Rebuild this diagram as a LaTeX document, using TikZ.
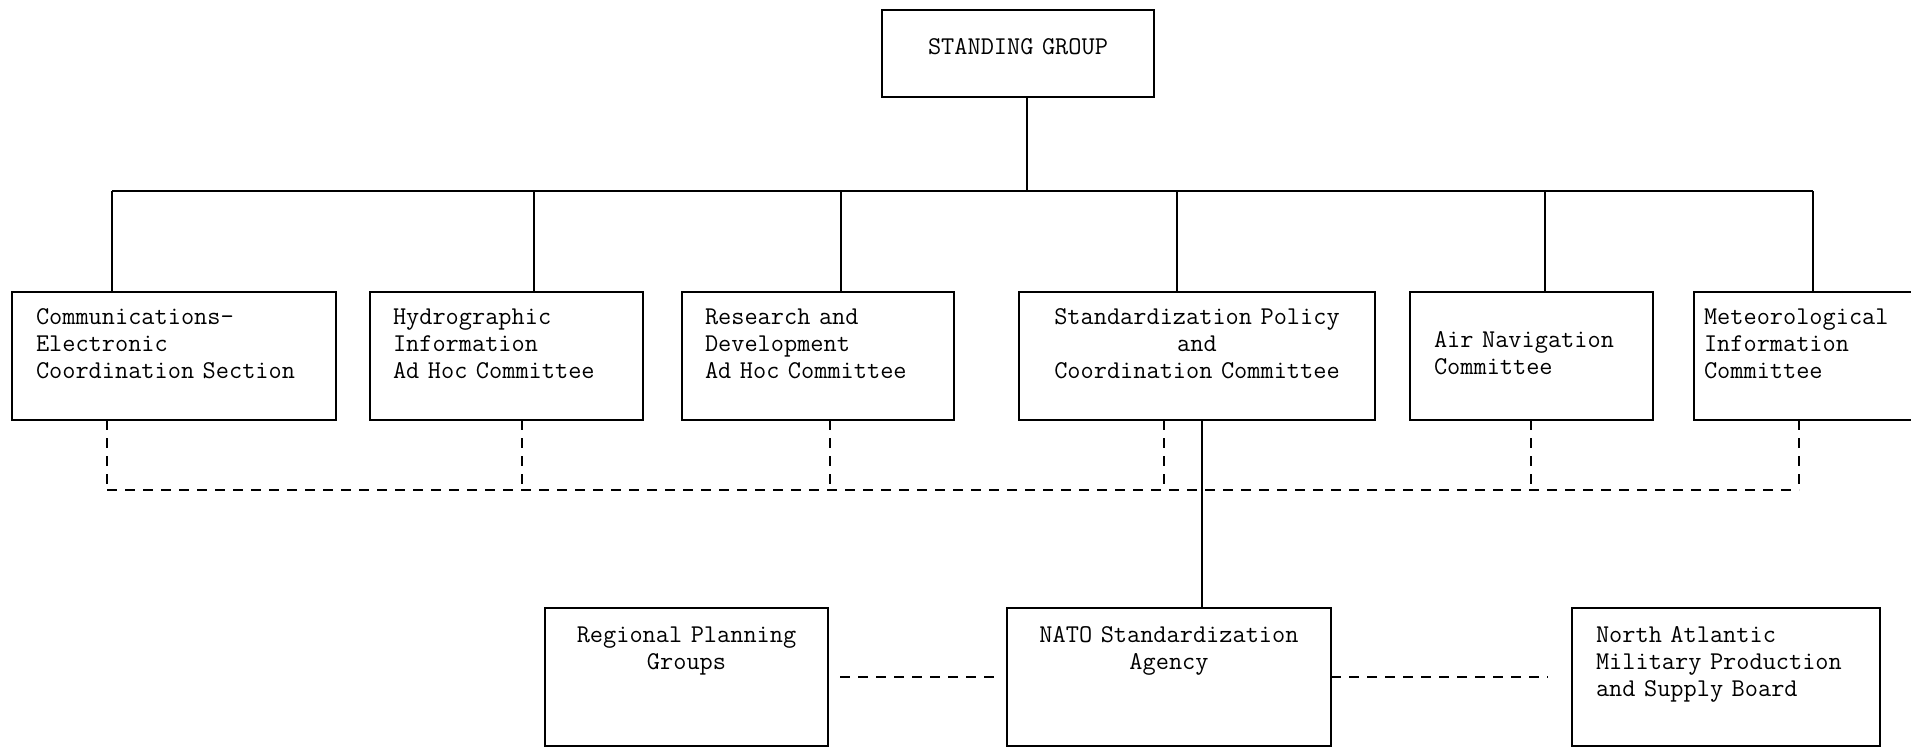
\documentclass[tikz,border=0pt]{standalone}
\usetikzlibrary{positioning}

\newcommand{\typed}{\fontsize{12.8}{13.6}\selectfont\ttfamily}

\begin{document}
\begin{tikzpicture}[
    x=0.5pt,y=-0.5pt,
    box/.style={rectangle,draw,line width=0.8pt,inner ysep=0pt,outer sep=0pt,font=\typed},
    unit/.style={box,align=left,text height=16pt,text depth=48pt},
    agency/.style={box,text height=17pt,text depth=52pt},
    link/.style={line width=0.8pt},
    liaison/.style={line width=0.8pt,dash pattern=on 5pt off 4pt}
]
\fill[white] (0,0) rectangle (1911,750);
\useasboundingbox (0,0) rectangle (1911,750);

% Top of the chain
\node[box,align=center,text width=112pt,inner xsep=12pt,text height=22pt,text depth=21.5pt] (sg) at (1018,53.5) {STANDING GROUP};

% Committees and sections
\node[unit,text width=138pt,inner xsep=12pt] (ces) at (174,356) {Communications-\\Electronic\\Coordination Section};
\node[unit,text width=113.5pt,inner xsep=11.5pt,right=17pt of ces] (hic) {Hydrographic\\Information\\Ad Hoc Committee};
\node[unit,text width=113pt,inner xsep=11.5pt,right=19.5pt of hic] (rdc) {Research and\\Development\\Ad Hoc Committee};
\node[unit,align=center,text width=154pt,inner xsep=12pt,right=32.5pt of rdc] (spcc) {Standardization Policy\\and\\Coordination Committee};
\node[unit,text width=97.5pt,inner xsep=12pt,text height=27.5pt,text depth=36.5pt,right=17.5pt of spcc] (anc) {Air Navigation\\Committee};
\node[unit,text width=105.5pt,inner xsep=5pt,right=20.5pt of anc] (mic) {Meteorological\\Information\\Committee};

% Agency row
\node[agency,align=center,text width=138pt,inner xsep=12pt] (nsa) at (1169,677) {NATO Standardization\\Agency};
\node[agency,align=center,text width=121.5pt,inner xsep=10pt,left=89.5pt of nsa] (rpg) {Regional Planning\\Groups};
\node[agency,align=left,text width=130pt,inner xsep=12pt,right=120.5pt of nsa] (nampsb) {North Atlantic\\Military Production\\and Supply Board};

% Bus from the Standing Group
\coordinate (hub) at (1027,191);
\coordinate (d1) at (112,191);
\coordinate (d2) at (534,191);
\coordinate (d3) at (841,191);
\coordinate (d4) at (1177,191);
\coordinate (d5) at (1545,191);
\coordinate (d6) at (1813,191);
\draw[link] (sg.south -| hub) -- (hub);
\draw[link] (d1) -- (d6);
\draw[link] (d1) -- (d1 |- ces.north);
\draw[link] (d2) -- (d2 |- hic.north);
\draw[link] (d3) -- (d3 |- rdc.north);
\draw[link] (d4) -- (d4 |- spcc.north);
\draw[link] (d5) -- (d5 |- anc.north);
\draw[link] (d6) -- (d6 |- mic.north);

% Dashed coordination line
\coordinate (e1) at (107,490);
\coordinate (e2) at (522,490);
\coordinate (e3) at (830,490);
\coordinate (e4) at (1164,490);
\coordinate (e5) at (1531,490);
\coordinate (e6) at (1799,490);
\draw[liaison] (ces.south -| e1) -- (e1);
\draw[liaison] (hic.south -| e2) -- (e2);
\draw[liaison] (rdc.south -| e3) -- (e3);
\draw[liaison] (spcc.south -| e4) -- (e4);
\draw[liaison] (anc.south -| e5) -- (e5);
\draw[liaison] (mic.south -| e6) -- (e6);
\draw[liaison] (e1) -- (e6);

% Link down to the agency
\coordinate (sx) at (1202,490);
\draw[link] (spcc.south -| sx) -- (sx |- nsa.north);

% Side liaisons
\draw[liaison,shorten <=6pt,shorten >=6pt] (rpg) -- (nsa);
\draw[liaison,shorten >=12pt] (nsa) -- (nampsb);

\end{tikzpicture}
\end{document}
